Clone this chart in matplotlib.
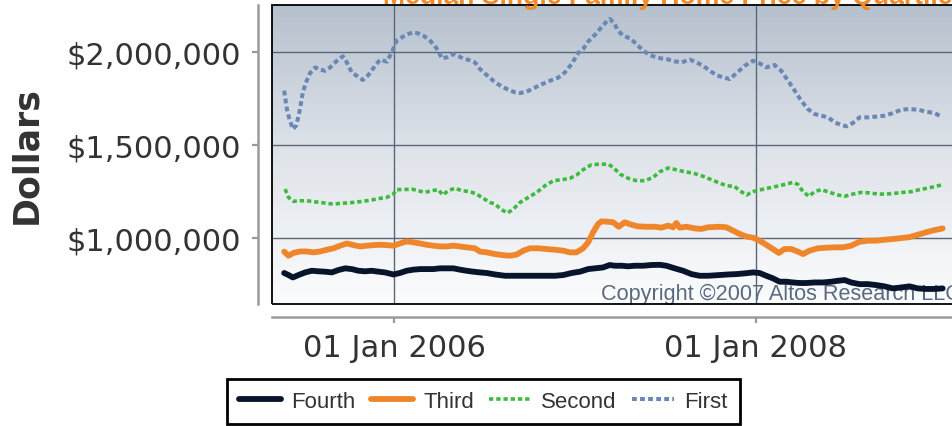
import numpy as np
import pandas as pd
import matplotlib
matplotlib.use("Agg")
import matplotlib.pyplot as plt
import matplotlib.dates as mdates
from matplotlib.colors import LinearSegmentedColormap
from matplotlib.patches import Rectangle
from matplotlib.ticker import FuncFormatter

# ---- data (decimal years, thousands of dollars) ----
first_years = [2005.393, 2005.408, 2005.422, 2005.441, 2005.459, 2005.477, 2005.496, 2005.514,
               2005.536, 2005.564, 2005.592, 2005.619, 2005.647, 2005.684, 2005.717, 2005.739,
               2005.766, 2005.798, 2005.827, 2005.858, 2005.895, 2005.923, 2005.960, 2005.987,
               2006.015, 2006.052, 2006.079, 2006.107, 2006.134, 2006.162, 2006.190, 2006.217,
               2006.245, 2006.263, 2006.291, 2006.328, 2006.355, 2006.383, 2006.420, 2006.447,
               2006.475, 2006.512,
               2006.558, 2006.594, 2006.631, 2006.668, 2006.696, 2006.732, 2006.769, 2006.815,
               2006.861, 2006.907, 2006.944, 2006.981, 2007.018, 2007.045, 2007.073, 2007.110,
               2007.146, 2007.174, 2007.192, 2007.216, 2007.238, 2007.266, 2007.303, 2007.340,
               2007.376, 2007.413, 2007.459, 2007.505, 2007.551, 2007.588, 2007.634, 2007.671,
               2007.708, 2007.744, 2007.781,
               2007.800, 2007.855, 2007.901, 2007.938, 2007.984, 2008.020, 2008.057, 2008.103,
               2008.140, 2008.177, 2008.214, 2008.250, 2008.287, 2008.324, 2008.361, 2008.398,
               2008.435, 2008.471, 2008.499, 2008.536, 2008.572, 2008.618, 2008.664, 2008.710,
               2008.756, 2008.802, 2008.848, 2008.894, 2008.940, 2008.986, 2009.023]
first_vals = [1792, 1693, 1639, 1585, 1603, 1675, 1783, 1837, 1887, 1917, 1905, 1899, 1917, 1953,
              1977, 1944, 1890, 1869, 1849, 1876, 1926, 1959, 1948, 1998, 2061, 2084, 2097, 2106,
              2100, 2088, 2070, 2043, 2007, 1966, 1971, 1989, 1977, 1966, 1955, 1944, 1908, 1876,
              1837, 1815, 1797, 1783, 1779, 1786, 1804, 1826, 1845, 1862, 1890, 1935, 1995, 2016,
              2056, 2092, 2133, 2163, 2178, 2156, 2115, 2088, 2074, 2043, 2007, 1984, 1968, 1962,
              1950, 1944, 1959, 1944, 1926, 1899, 1876,
              1869, 1854, 1894, 1926, 1953, 1939, 1917, 1930, 1899, 1846, 1792, 1738, 1693, 1666,
              1657, 1648, 1621, 1607, 1600, 1618, 1648, 1648, 1652, 1657, 1671, 1689, 1693, 1689,
              1679, 1671, 1652]

second_years = [2005.398, 2005.417, 2005.444, 2005.481, 2005.518, 2005.555, 2005.592, 2005.628,
                2005.665, 2005.702, 2005.739, 2005.776, 2005.812, 2005.849, 2005.886, 2005.923,
                2005.960, 2005.996, 2006.015, 2006.052, 2006.098, 2006.134, 2006.171, 2006.208,
                2006.245, 2006.269, 2006.300, 2006.337, 2006.374, 2006.420, 2006.456, 2006.493,
                2006.530,
                2006.558, 2006.594, 2006.627, 2006.659, 2006.696, 2006.742, 2006.788, 2006.834,
                2006.880, 2006.926, 2006.972, 2007.008, 2007.045, 2007.091, 2007.137, 2007.183,
                2007.211, 2007.248, 2007.294, 2007.340, 2007.386, 2007.432, 2007.468, 2007.514,
                2007.560, 2007.606, 2007.652, 2007.698, 2007.744,
                2007.800, 2007.836, 2007.882, 2007.910, 2007.947, 2007.984, 2008.030, 2008.076,
                2008.131, 2008.168, 2008.204, 2008.232, 2008.260, 2008.293, 2008.324, 2008.361,
                2008.407, 2008.453, 2008.490, 2008.536, 2008.582, 2008.628, 2008.674, 2008.720,
                2008.766, 2008.812, 2008.858, 2008.904, 2008.950, 2008.986, 2009.023]
second_vals = [1262, 1217, 1196, 1199, 1199, 1194, 1190, 1185, 1181, 1185, 1187, 1190, 1194, 1199,
               1205, 1212, 1217, 1235, 1259, 1259, 1262, 1253, 1244, 1253, 1259, 1230, 1253, 1267,
               1253, 1248, 1235, 1212, 1190,
               1181, 1151, 1133, 1154, 1190, 1217, 1244, 1280, 1307, 1312, 1320, 1337, 1366, 1393,
               1396, 1396, 1379, 1343, 1320, 1307, 1307, 1325, 1355, 1375, 1366, 1355, 1348, 1334,
               1316,
               1294, 1280, 1276, 1253, 1230, 1248, 1259, 1269, 1280, 1289, 1298, 1287, 1248, 1223,
               1248, 1259, 1244, 1230, 1223, 1235, 1244, 1241, 1235, 1235, 1239, 1244, 1248, 1259,
               1267, 1275, 1284]

third_years = [2005.393, 2005.417, 2005.444, 2005.481, 2005.518, 2005.555, 2005.592, 2005.628,
               2005.665, 2005.702, 2005.739, 2005.776, 2005.812, 2005.849, 2005.886, 2005.923,
               2005.960, 2005.996, 2006.033, 2006.070, 2006.107, 2006.144, 2006.180, 2006.217,
               2006.254, 2006.291, 2006.328, 2006.364, 2006.401, 2006.447, 2006.475, 2006.512,
               2006.558, 2006.594, 2006.640, 2006.677, 2006.714, 2006.751, 2006.797, 2006.843,
               2006.889, 2006.935, 2006.972, 2007.008, 2007.045, 2007.073, 2007.100, 2007.128,
               2007.146, 2007.183, 2007.211, 2007.242, 2007.275, 2007.312, 2007.349, 2007.395,
               2007.441, 2007.478, 2007.514, 2007.542, 2007.560, 2007.579, 2007.616, 2007.662,
               2007.698, 2007.735,
               2007.800, 2007.836, 2007.873, 2007.910, 2007.947, 2007.984, 2008.020, 2008.057,
               2008.094, 2008.127, 2008.158, 2008.195, 2008.232, 2008.260, 2008.296, 2008.342,
               2008.388, 2008.435, 2008.480, 2008.526, 2008.572, 2008.618, 2008.664, 2008.710,
               2008.756, 2008.802, 2008.848, 2008.894, 2008.940, 2008.986, 2009.029]
third_vals = [925, 903, 918, 926, 926, 921, 926, 935, 943, 957, 969, 960, 953, 957, 960, 962,
              960, 957, 969, 980, 975, 969, 962, 957, 953, 953, 957, 953, 948, 943, 925, 921,
              912, 907, 903, 909, 930, 943, 943, 939, 935, 930, 921, 921, 943, 975, 1029, 1074,
              1088, 1086, 1083, 1059, 1083, 1070, 1061, 1059, 1059, 1054, 1065, 1056, 1079, 1054,
              1059, 1050, 1047, 1056,
              1059, 1056, 1038, 1020, 1006, 1000, 984, 962, 939, 918, 939, 939, 925, 912, 930, 943,
              946, 948, 948, 957, 978, 984, 984, 989, 993, 998, 1003, 1016, 1029, 1041, 1050]

fourth_years = [2005.393, 2005.417, 2005.441, 2005.472, 2005.509, 2005.546, 2005.582, 2005.619,
                2005.656, 2005.693, 2005.730, 2005.766, 2005.803, 2005.840, 2005.877, 2005.914,
                2005.950, 2005.996, 2006.033, 2006.070, 2006.107, 2006.144, 2006.180, 2006.217,
                2006.254, 2006.291, 2006.328, 2006.364, 2006.401, 2006.438, 2006.475, 2006.512,
                2006.558, 2006.613, 2006.668, 2006.723, 2006.778, 2006.834, 2006.889, 2006.935,
                2006.981, 2007.027, 2007.073, 2007.110, 2007.156, 2007.192, 2007.220, 2007.257,
                2007.294, 2007.330, 2007.376, 2007.422, 2007.468, 2007.505, 2007.551, 2007.597,
                2007.643, 2007.689, 2007.735,
                2007.800, 2007.846, 2007.892, 2007.938, 2007.984, 2008.020, 2008.057, 2008.094,
                2008.131, 2008.168, 2008.204, 2008.241, 2008.278, 2008.324, 2008.370, 2008.416,
                2008.453, 2008.490, 2008.526, 2008.572, 2008.618, 2008.664, 2008.710, 2008.756,
                2008.802, 2008.848, 2008.894, 2008.940, 2008.986, 2009.029]
fourth_vals = [810, 799, 786, 799, 813, 822, 819, 817, 813, 826, 835, 831, 822, 819, 822, 817,
               813, 802, 810, 822, 828, 831, 831, 831, 835, 835, 835, 828, 822, 817, 813, 810,
               802, 795, 795, 795, 795, 795, 795, 799, 810, 817, 831, 835, 840, 853, 849, 849,
               846, 849, 849, 853, 854, 849, 835, 822, 804, 795, 795,
               799, 802, 804, 808, 813, 810, 795, 781, 763, 763, 759, 756, 756, 759, 759, 763,
               768, 772, 759, 750, 750, 745, 738, 727, 732, 738, 727, 724, 724, 727]

series_names = ["Fourth", "Third", "Second", "First"]
title = "Median Single Family Home Price by Quartile"
copyright_text = "Copyright \u00a92007 Altos Research LLC"
y_ticks = [1000000, 1500000, 2000000]
x_ticks = ["2006-01-01", "2008-01-01"]


def to_dates(years):
    years = np.asarray(years, dtype=float)
    whole = np.floor(years).astype(int)
    base = pd.to_datetime(whole.astype(str), format="%Y")
    return base + pd.to_timedelta((years - whole) * 365.25, unit="D")


W, H = 952, 427
fig = plt.figure(figsize=(W / 100, H / 100), dpi=100)

# panel in pixel terms: left 272, top 6, bottom 305, runs off the right edge
ax = fig.add_axes([272 / W, 1 - 305 / H, (1010 - 272) / W, (305 - 6) / H])
ax.patch.set_visible(False)

styles = {
    "Fourth": dict(color="#07142b", lw=4.2, ls="-", solid_capstyle="round"),
    "Third": dict(color="#f0862b", lw=4.2, ls="-", solid_capstyle="round"),
    "Second": dict(color="#3dbb3d", lw=2.6, ls=(0, (1.2, 0.8))),
    "First": dict(color="#6a87b6", lw=2.9, ls=(0, (1.2, 0.8))),
}
data = {
    "Fourth": (fourth_years, fourth_vals),
    "Third": (third_years, third_vals),
    "Second": (second_years, second_vals),
    "First": (first_years, first_vals),
}

handles = []
for name in series_names:
    yrs, vals = data[name]
    ln, = ax.plot(to_dates(yrs), np.asarray(vals) * 1000, label=name, zorder=3, **styles[name])
    handles.append(ln)

# gradient background
cmap = LinearSegmentedColormap.from_list("bg", ["#fbfcfd", "#dfe4ea", "#b6c1ce"])
grad = np.linspace(0, 1, 256).reshape(-1, 1)
ax.imshow(grad, extent=[0, 1, 0, 1], transform=ax.transAxes, origin="lower",
          aspect="auto", cmap=cmap, zorder=0)
ax.add_patch(Rectangle((0, 0), 1, 1, transform=ax.transAxes, fill=False,
                       edgecolor="black", lw=1.3, zorder=4, clip_on=False))

x0 = pd.Timestamp("2006-01-01") - pd.Timedelta(days=0.6735 * 365.25)
x1 = pd.Timestamp("2008-01-01") + pd.Timedelta(days=1.403 * 365.25)
ax.set_xlim(x0, x1)
ax.set_ylim(642980, 2253100)

ax.set_xticks(pd.to_datetime(x_ticks))
ax.xaxis.set_major_formatter(mdates.DateFormatter("%d %b %Y"))
ax.set_yticks(y_ticks)
ax.yaxis.set_major_formatter(FuncFormatter(lambda v, p: "${:,.0f}".format(v)))

ax.grid(True, color="#5b6676", lw=1.0)
ax.set_axisbelow(True)

for s in ["top", "right"]:
    ax.spines[s].set_visible(False)
ax.spines["left"].set_position(("outward", 10))
ax.spines["bottom"].set_position(("outward", 9.4))
for s in ["left", "bottom"]:
    ax.spines[s].set_color("#9a9a9a")
    ax.spines[s].set_linewidth(1.8)

ax.tick_params(axis="both", direction="out", length=4.5, width=1.6, color="#9a9a9a",
               labelcolor="#333333", labelsize=22)
ax.tick_params(axis="x", pad=7)
ax.tick_params(axis="y", pad=8)
for lab in ax.get_xticklabels() + ax.get_yticklabels():
    lab.set_family("DejaVu Sans")

fig.text(26.5 / W, 1 - 155 / H, "Dollars", rotation=90, ha="center", va="center",
         fontsize=25, fontweight="bold", color="#333333", family="DejaVu Sans")

fig.text(383 / W, 1 - 4 / H, title, ha="left", va="baseline", fontsize=19.2,
         fontweight="bold", color="#f28a28", family="Liberation Sans")

ax.text(601 / W, 1 - 300 / H, copyright_text, transform=fig.transFigure, ha="left",
        va="baseline", fontsize=15.6, color="#5a6a7e", family="Liberation Sans", zorder=2)

leg = fig.legend(handles, series_names, loc="upper left", bbox_to_anchor=(227 / W, 1 - 380 / H),
                 ncol=4, frameon=True, fancybox=False, framealpha=1, edgecolor="black",
                 borderaxespad=0, borderpad=0.55, handlelength=1.9, handletextpad=0.45,
                 columnspacing=0.68, prop={"family": "Liberation Sans", "size": 16})
leg.get_frame().set_linewidth(2)
for t in leg.get_texts():
    t.set_color("#333333")

fig.savefig("out.png", dpi=100)
